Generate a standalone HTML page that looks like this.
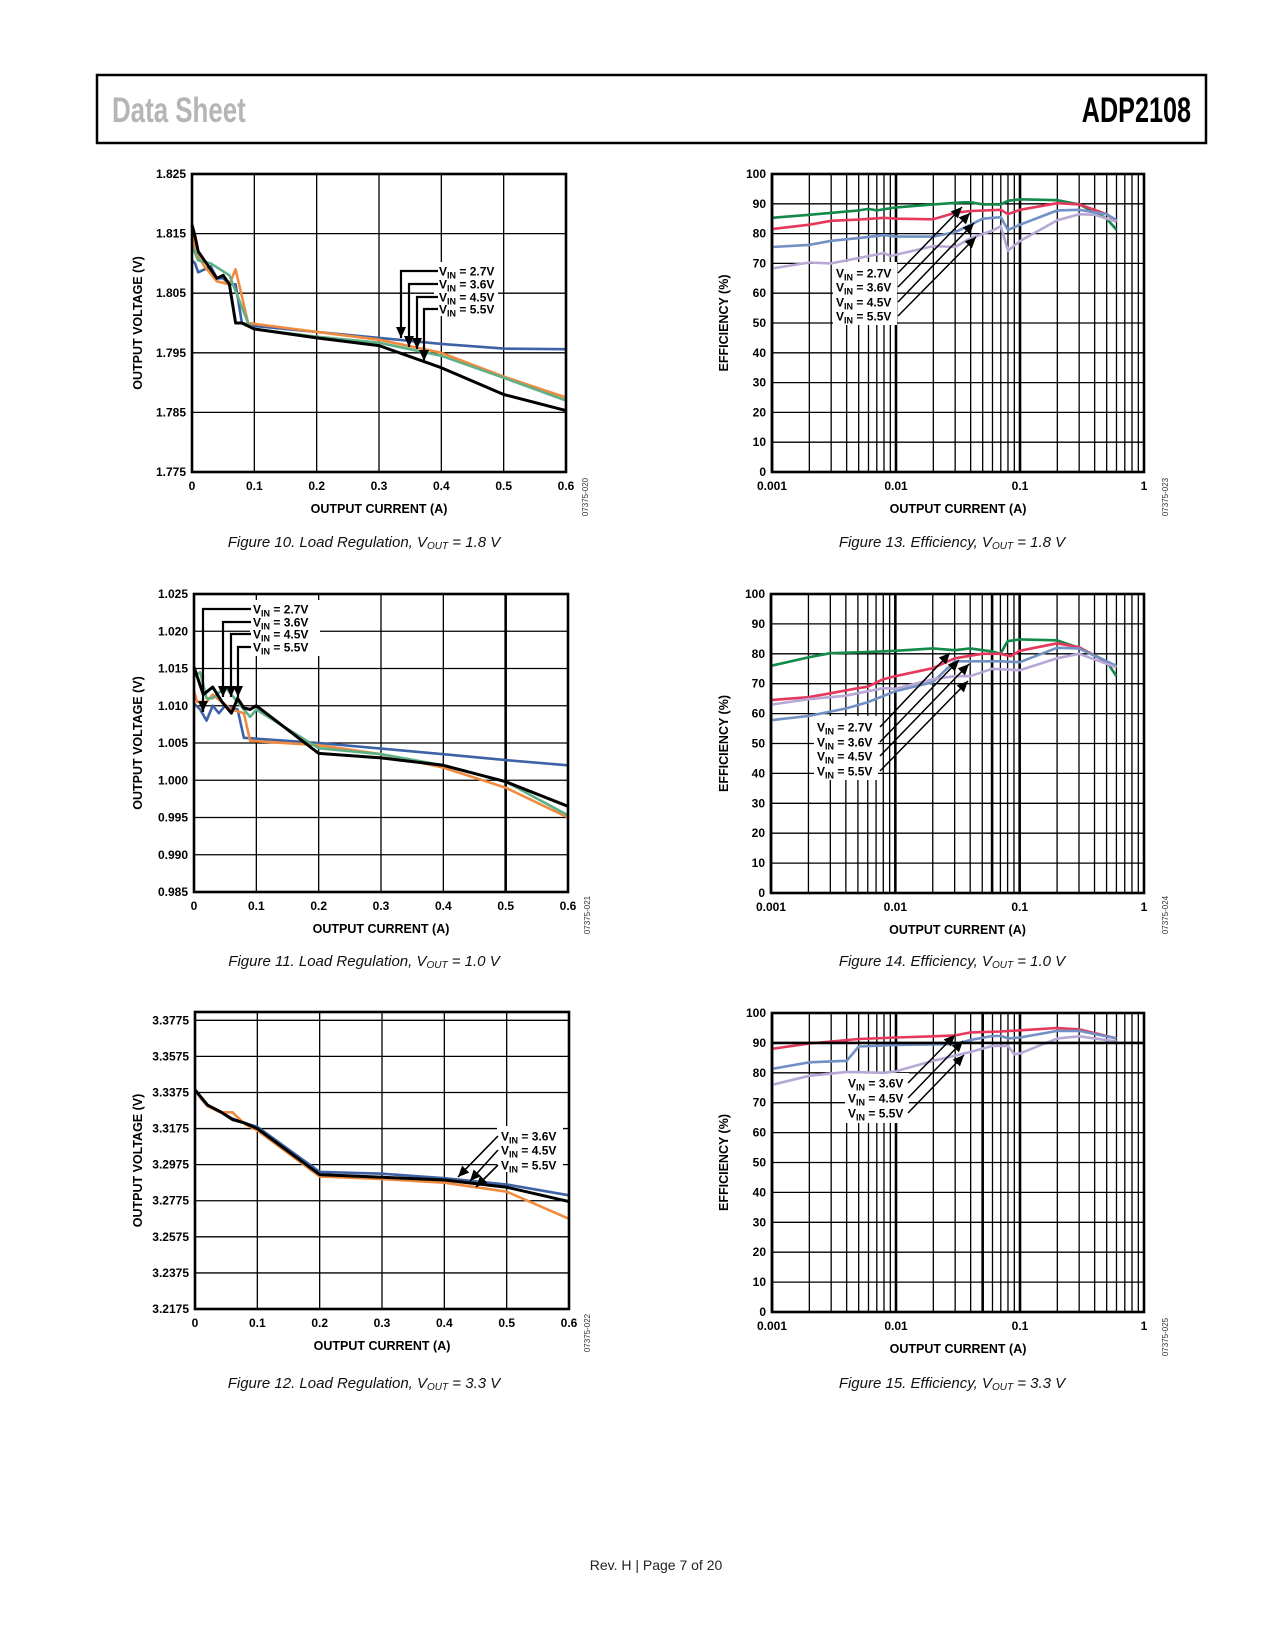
<!DOCTYPE html>
<html><head><meta charset="utf-8">
<style>
html,body{margin:0;padding:0;background:#fff;}
svg{display:block;font-family:"Liberation Sans",sans-serif;}
</style></head>
<body>
<svg id="page" xmlns="http://www.w3.org/2000/svg" width="1275" height="1650" viewBox="0 0 1275 1650">
<rect x="0" y="0" width="1275" height="1650" fill="#fff"/>
<rect x="97" y="75" width="1109" height="68" fill="none" stroke="#000" stroke-width="2.5"/>
<text x="112" y="122" font-size="35" fill="#b5b5b5" font-weight="bold" transform="translate(112 0) scale(0.74 1) translate(-112 0)">Data Sheet</text>
<text x="1191" y="122" font-size="35" font-weight="bold" text-anchor="end" transform="translate(1191 0) scale(0.72 1) translate(-1191 0)">ADP2108</text>
<text x="656" y="1570" font-size="14" text-anchor="middle" fill="#222">Rev. H | Page 7 of 20</text>
<g id="charts"></g>
</svg>
<script>
// ---------- Figure 10 data: load regulation VOUT=1.8V ----------
const fig10_xticks = [0,0.1,0.2,0.3,0.4,0.5,0.6];
const fig10_yticks = [1.775,1.785,1.795,1.805,1.815,1.825];
const fig10_blue_x = [0,0.005,0.01,0.03,0.04,0.05,0.06,0.07,0.08,0.1,0.2,0.3,0.4,0.5,0.6];
const fig10_blue_y = [1.8105,1.810,1.8085,1.8095,1.8075,1.8075,1.8065,1.8065,1.800,1.7995,1.7985,1.7975,1.7965,1.7957,1.7956];
const fig10_orange_x = [0,0.005,0.02,0.04,0.06,0.07,0.09,0.2,0.3,0.4,0.5,0.6];
const fig10_orange_y = [1.8155,1.812,1.8095,1.807,1.8065,1.809,1.800,1.7985,1.7972,1.795,1.791,1.7875];
const fig10_green_x = [0,0.01,0.03,0.06,0.09,0.1,0.2,0.3,0.4,0.5,0.6];
const fig10_green_y = [1.813,1.8105,1.810,1.808,1.800,1.799,1.7977,1.7967,1.7945,1.7908,1.787];
const fig10_black_x = [0,0.005,0.01,0.04,0.05,0.06,0.07,0.08,0.1,0.2,0.3,0.4,0.5,0.6];
const fig10_black_y = [1.8165,1.8145,1.812,1.8075,1.808,1.8065,1.800,1.800,1.799,1.7975,1.7962,1.7925,1.788,1.7853];

// ---------- Figure 11 data: load regulation VOUT=1.0V ----------
const fig11_xticks = [0,0.1,0.2,0.3,0.4,0.5,0.6];
const fig11_yticks = [0.985,0.990,0.995,1.000,1.005,1.010,1.015,1.020,1.025];
const fig11_blue_x = [0,0.01,0.02,0.03,0.04,0.05,0.07,0.08,0.2,0.4,0.5,0.6];
const fig11_blue_y = [1.0103,1.0095,1.008,1.010,1.009,1.010,1.0095,1.0057,1.005,1.0035,1.0027,1.002];
const fig11_orange_x = [0,0.005,0.02,0.03,0.06,0.08,0.09,0.2,0.3,0.4,0.5,0.6];
const fig11_orange_y = [1.012,1.0105,1.0105,1.0115,1.0095,1.009,1.0053,1.0047,1.0035,1.0017,0.999,0.995];
const fig11_green_x = [0,0.01,0.02,0.03,0.05,0.07,0.09,0.1,0.2,0.3,0.4,0.5,0.6];
const fig11_green_y = [1.014,1.0145,1.011,1.011,1.0125,1.0105,1.0085,1.0095,1.0043,1.0035,1.002,0.9998,0.9953];
const fig11_black_x = [0,0.015,0.03,0.045,0.06,0.07,0.08,0.09,0.1,0.2,0.3,0.4,0.5,0.6];
const fig11_black_y = [1.0152,1.0115,1.0125,1.0105,1.009,1.011,1.0097,1.0095,1.010,1.0036,1.003,1.002,0.9998,0.9965];

// ---------- Figure 12 data: load regulation VOUT=3.3V ----------
const fig12_xticks = [0,0.1,0.2,0.3,0.4,0.5,0.6];
const fig12_yticks = [3.2175,3.2375,3.2575,3.2775,3.2975,3.3175,3.3375,3.3575,3.3775];
const fig12_blue_x = [0,0.01,0.02,0.04,0.06,0.08,0.1,0.2,0.3,0.4,0.5,0.6];
const fig12_blue_y = [3.339,3.334,3.330,3.327,3.323,3.3205,3.3185,3.2935,3.2925,3.290,3.2865,3.2805];
const fig12_black_x = [0,0.02,0.04,0.06,0.08,0.1,0.2,0.3,0.4,0.5,0.6];
const fig12_black_y = [3.339,3.3305,3.327,3.3225,3.3205,3.3175,3.292,3.2905,3.289,3.285,3.277];
const fig12_orange_x = [0,0.02,0.04,0.06,0.08,0.1,0.2,0.3,0.4,0.5,0.6];
const fig12_orange_y = [3.3385,3.330,3.3265,3.3265,3.320,3.3165,3.291,3.2895,3.2875,3.2825,3.2675];

// ---------- Figure 13 data: efficiency VOUT=1.8V ----------
const eff_xticks = [0.001,0.01,0.1,1];
const eff_xtick_labels = ["0.001","0.01","0.1","1"];
const eff_yticks = [0,10,20,30,40,50,60,70,80,90,100];
const fig13_green_x = [0.001,0.002,0.005,0.006,0.007,0.01,0.02,0.035,0.04,0.05,0.07,0.08,0.1,0.2,0.3,0.5,0.6];
const fig13_green_y = [85.3,86.3,87.8,88.3,87.8,88.8,89.8,90.5,90.5,89.8,89.8,91,91.5,91.2,89.8,85,81.3];
const fig13_red_x = [0.001,0.002,0.003,0.005,0.008,0.01,0.02,0.03,0.04,0.07,0.08,0.1,0.2,0.3,0.5,0.6];
const fig13_red_y = [81.5,83,84.3,84.7,85.3,85,84.8,87,87.6,88,86.5,88,90.2,89.8,86.5,84.2];
const fig13_blue_x = [0.001,0.002,0.003,0.005,0.008,0.01,0.02,0.03,0.04,0.05,0.07,0.08,0.1,0.2,0.3,0.5,0.6];
const fig13_blue_y = [75.5,76.2,77.6,78.5,79.5,79,79,80.5,83,85,85.5,81.2,83,87.8,88,86.5,84.5];
const fig13_lav_x = [0.001,0.002,0.003,0.005,0.008,0.009,0.02,0.03,0.04,0.06,0.07,0.08,0.1,0.2,0.3,0.4,0.6];
const fig13_lav_y = [68.3,70.3,70,71.8,73.5,72.5,75.8,75.5,78.5,81,82.5,74.3,77.5,84.5,86.5,86.3,84];

// ---------- Figure 14 data: efficiency VOUT=1.0V ----------
const fig14_green_x = [0.001,0.002,0.003,0.006,0.01,0.02,0.03,0.04,0.06,0.07,0.08,0.1,0.2,0.3,0.5,0.6];
const fig14_green_y = [76,78.8,80.2,80.6,81,81.8,81.2,81.8,80.8,80,84.2,84.8,84.5,82,77.5,72.5];
const fig14_red_x = [0.001,0.002,0.003,0.005,0.006,0.008,0.01,0.02,0.03,0.05,0.07,0.085,0.1,0.2,0.3,0.6];
const fig14_red_y = [64.5,65.5,66.8,68.5,69,71.5,72.5,75.2,78.5,80,80,79.2,81,83.5,82.2,75.5];
const fig14_blue_x = [0.001,0.002,0.004,0.006,0.01,0.02,0.03,0.05,0.07,0.1,0.2,0.3,0.6];
const fig14_blue_y = [57.8,59.2,61.7,63.8,67.5,70.5,77.5,77.5,77.5,77.2,82,81.8,76];
const fig14_lav_x = [0.001,0.002,0.004,0.006,0.008,0.01,0.02,0.03,0.04,0.06,0.1,0.2,0.3,0.6];
const fig14_lav_y = [63,64.8,66,67.5,68.5,68.3,71.5,72.5,72.5,75,74.5,78.5,80,75.5];

// ---------- Figure 15 data: efficiency VOUT=3.3V ----------
const fig15_red_x = [0.001,0.002,0.005,0.01,0.02,0.03,0.04,0.07,0.1,0.2,0.3,0.6];
const fig15_red_y = [88,89.8,91.3,91.8,92.2,92.5,93.5,93.8,94.2,95,94.5,91.5];
const fig15_blue_x = [0.001,0.002,0.004,0.005,0.01,0.03,0.04,0.06,0.07,0.08,0.1,0.2,0.3,0.6];
const fig15_blue_y = [81.3,83.5,84,88.8,89.3,89.6,91,92.3,92.3,91.5,91.8,94,94,91.5];
const fig15_lav_x = [0.001,0.002,0.004,0.008,0.01,0.02,0.04,0.06,0.08,0.09,0.1,0.2,0.3,0.6];
const fig15_lav_y = [76,79,80.3,80,80.5,84,87,89,89,86.2,86.5,91.5,92.2,90.5];

const NS = "http://www.w3.org/2000/svg";
const root = document.getElementById('charts');
function mk(tag, attrs, parent, text){
  const e = document.createElementNS(NS, tag);
  for (const k in attrs) e.setAttribute(k, attrs[k]);
  if (text !== undefined) e.textContent = text;
  (parent || root).appendChild(e);
  return e;
}
const C = {blue:"#3d62a6", orange:"#f08a3e", green:"#5fb087", black:"#000",
  egreen:"#13894a", ered:"#e6385c", eblue:"#7190c4", elav:"#b7a8d6"};

function makeChart(o){
  const g = mk('g', {});
  
  
  const sx = o.log
    ? v => o.L + (Math.log10(v) - Math.log10(o.xmin)) / (Math.log10(o.xmax) - Math.log10(o.xmin)) * (o.R - o.L)
    : v => o.L + (v - o.xmin) / (o.xmax - o.xmin) * (o.R - o.L);
  const sy = v => o.B - (v - o.ymin) / (o.ymax - o.ymin) * (o.B - o.T);
  const grid = mk('g', {}, g);
  
  
  o.yticks.forEach(v => {
    mk('line', {x1:o.L, x2:o.R, y1:sy(v), y2:sy(v), stroke:"#000", "stroke-width":1.3}, grid);
  });
  if (o.log){
    for (let d = o.xmin; d < o.xmax * 0.999; d *= 10){
      for (let m = 1; m <= 9; m++){
        const v = d * m;
        const thick = (m === 1) || (o.thick && o.thick.some(t => Math.abs(t - v) < 1e-9));
        mk('line', {x1:sx(v), x2:sx(v), y1:o.T, y2:o.B, stroke:"#000", "stroke-width": thick ? 2.6 : 1.3}, grid);
      }
    }
  } else {
    o.xticks.forEach(v => {
      const thick = o.thick && o.thick.indexOf(v) >= 0;
      mk('line', {x1:sx(v), x2:sx(v), y1:o.T, y2:o.B, stroke:"#000", "stroke-width": thick ? 2.6 : 1.3}, grid);
    });
  }
  o.yticks.forEach((v, i) => {
    const t = mk('text', {x:o.L - 6, y:sy(v) + 4, "font-size":12, "font-weight":"bold", "text-anchor":"end"}, g, o.ylabels ? o.ylabels[i] : String(v));
    
    
  });
  o.xticks.forEach((v, i) => {
    const t = mk('text', {x:sx(v), y:o.B + 18, "font-size":12, "font-weight":"bold", "text-anchor":"middle"}, g, o.xlabels ? o.xlabels[i] : String(v));
    
    
  });
  const xt = mk('text', {x:(o.L + o.R) / 2, y:o.B + 41, "font-size":12.5, "font-weight":"bold", "text-anchor":"middle"}, g, "OUTPUT CURRENT (A)");
  
  
  const yc = (o.T + o.B) / 2;
  const yt = mk('text', {x:o.ytx, y:yc, "font-size":12.5, "font-weight":"bold", "text-anchor":"middle", transform:`rotate(-90 ${o.ytx} ${yc})`}, g, o.ytitle);
  
  
  const fid = mk('text', {x:o.idx, y:o.idy, "font-size":8, fill:"#333", "text-anchor":"middle", transform:`rotate(-90 ${o.idx} ${o.idy})`}, g, o.figid);
  
  
  if (o.labelBox){
    const b = o.labelBox;
    mk('rect', {x:b[0], y:b[1], width:b[2], height:b[3], fill:"#fff"}, g);
  }
  o.series.forEach(s => {
    let d = "";
    s.x.forEach((xv, i) => { d += (i ? "L" : "M") + sx(xv).toFixed(1) + "," + sy(s.y[i]).toFixed(1); });
    const p = mk('path', {d:d, fill:"none", stroke:s.color, "stroke-width":s.w || 2.6, "stroke-linejoin":"round"}, g);
    
    
  });
  const fr = mk('rect', {x:o.L, y:o.T, width:o.R - o.L, height:o.B - o.T, fill:"none", stroke:"#000", "stroke-width":2.6}, g);
  
  
  const cap = mk('text', {x:o.capx, y:o.capy, "font-size":15, "font-style":"italic", "text-anchor":"middle", fill:"#111"}, g);
  
  
  mk('tspan', {}, cap, o.caption + ", V");
  mk('tspan', {"font-size":10, dy:2}, cap, "OUT");
  mk('tspan', {dy:-2}, cap, " = " + o.vout + " V");
  return g;
}

function vinLabel(g, x, y, val){
  const t = mk('text', {x:x, y:y + 4.5, "font-size":12, "font-weight":"bold"}, g);
  
  
  mk('tspan', {}, t, "V");
  mk('tspan', {"font-size":9, dy:3}, t, "IN");
  mk('tspan', {dy:-3}, t, " = " + val);
}
function arrow(g, pts, w){
  let d = "";
  pts.forEach((p, i) => d += (i ? "L" : "M") + p[0] + "," + p[1]);
  const a = mk('path', {d:d, fill:"none", stroke:"#000", "stroke-width":w || 2}, g);
  
  
  const n = pts.length, p1 = pts[n-2], p2 = pts[n-1];
  const ang = Math.atan2(p2[1]-p1[1], p2[0]-p1[0]);
  const L = 11, W = 5;
  const bx = p2[0] - L*Math.cos(ang), by = p2[1] - L*Math.sin(ang);
  const h = mk('polygon', {points:`${p2[0]},${p2[1]} ${bx - W*Math.sin(ang)},${by + W*Math.cos(ang)} ${bx + W*Math.sin(ang)},${by - W*Math.cos(ang)}`, fill:"#000"}, g);
  
  
}

const g10 = makeChart({name:"figure-10-load-regulation-1v8", L:192, R:566, T:174, B:472, xmin:0, xmax:0.6, ymin:1.775, ymax:1.825,
  xticks:fig10_xticks, yticks:fig10_yticks, ylabels:fig10_yticks.map(v=>v.toFixed(3)), ytitle:"OUTPUT VOLTAGE (V)", ytx:142,
  idx:588, idy:497, figid:"07375-020", capx:364, capy:547, caption:"Figure 10. Load Regulation", vout:"1.8",
  labelBox:[434,262,64,54],
  series:[{name:"series-vin-2v7",x:fig10_blue_x,y:fig10_blue_y,color:C.blue},
          {name:"series-vin-3v6",x:fig10_orange_x,y:fig10_orange_y,color:C.orange},
          {name:"series-vin-4v5",x:fig10_green_x,y:fig10_green_y,color:C.green},
          {name:"series-vin-5v5",x:fig10_black_x,y:fig10_black_y,color:C.black,w:3}]});
[["2.7V",271,401,338],["3.6V",284,409,347],["4.5V",297,417,349],["5.5V",309,424,361]].forEach(a=>{
  arrow(g10, [[438,a[1]],[a[2],a[1]],[a[2],a[3]]], 2.2); vinLabel(g10, 439, a[1], a[0]);
});

const g11 = makeChart({name:"figure-11-load-regulation-1v0", L:194, R:568, T:594, B:892, xmin:0, xmax:0.6, ymin:0.985, ymax:1.025,
  xticks:fig11_xticks, yticks:fig11_yticks, ylabels:fig11_yticks.map(v=>v.toFixed(3)), ytitle:"OUTPUT VOLTAGE (V)", ytx:142, thick:[0.5],
  idx:590, idy:915, figid:"07375-021", capx:364, capy:966, caption:"Figure 11. Load Regulation", vout:"1.0",
  labelBox:[250,600,70,56],
  series:[{name:"series-vin-2v7",x:fig11_blue_x,y:fig11_blue_y,color:C.blue},
          {name:"series-vin-3v6",x:fig11_orange_x,y:fig11_orange_y,color:C.orange},
          {name:"series-vin-4v5",x:fig11_green_x,y:fig11_green_y,color:C.green},
          {name:"series-vin-5v5",x:fig11_black_x,y:fig11_black_y,color:C.black,w:3}]});
[["2.7V",609,203,712],["3.6V",622,223,697],["4.5V",634,231,697],["5.5V",647,238,697]].forEach(a=>{
  arrow(g11, [[251,a[1]],[a[2],a[1]],[a[2],a[3]]], 2.2); vinLabel(g11, 253, a[1], a[0]);
});

const g12 = makeChart({name:"figure-12-load-regulation-3v3", L:195, R:569, T:1012, B:1309, xmin:0, xmax:0.6, ymin:3.2175, ymax:3.3821,
  xticks:fig12_xticks, yticks:fig12_yticks, ylabels:fig12_yticks.map(v=>v.toFixed(4)), ytitle:"OUTPUT VOLTAGE (V)", ytx:142,
  idx:590, idy:1333, figid:"07375-022", capx:364, capy:1388, caption:"Figure 12. Load Regulation", vout:"3.3",
  labelBox:[497,1126,66,46],
  series:[{name:"series-vin-3v6",x:fig12_blue_x,y:fig12_blue_y,color:C.blue},
          {name:"series-vin-5v5",x:fig12_orange_x,y:fig12_orange_y,color:C.orange},
          {name:"series-vin-4v5",x:fig12_black_x,y:fig12_black_y,color:C.black,w:3}]});
[["3.6V",1136,458,1177],["4.5V",1150,470,1181],["5.5V",1165,476,1187]].forEach(a=>{
  arrow(g12, [[498,a[1]],[a[2],a[3]]], 1.6); vinLabel(g12, 501, a[1], a[0]);
});

const g13 = makeChart({name:"figure-13-efficiency-1v8", log:true, L:772, R:1144, T:174, B:472, xmin:0.001, xmax:1, ymin:0, ymax:100,
  xticks:eff_xticks, xlabels:eff_xtick_labels, yticks:eff_yticks, ytitle:"EFFICIENCY (%)", ytx:728,
  idx:1168, idy:497, figid:"07375-023", capx:952, capy:547, caption:"Figure 13. Efficiency", vout:"1.8",
  labelBox:[833,262,64,63],
  series:[{name:"series-vin-2v7",x:fig13_green_x,y:fig13_green_y,color:C.egreen},
          {name:"series-vin-3v6",x:fig13_red_x,y:fig13_red_y,color:C.ered},
          {name:"series-vin-4v5",x:fig13_blue_x,y:fig13_blue_y,color:C.eblue},
          {name:"series-vin-5v5",x:fig13_lav_x,y:fig13_lav_y,color:C.elav}]});
[["2.7V",273,962,207],["3.6V",287,970,213],["4.5V",302,974,223],["5.5V",316,976,237]].forEach(a=>{
  arrow(g13, [[898,a[1]],[a[2],a[3]]], 1.5); vinLabel(g13, 836, a[1], a[0]);
});

const g14 = makeChart({name:"figure-14-efficiency-1v0", log:true, L:771, R:1144, T:594, B:893, xmin:0.001, xmax:1, ymin:0, ymax:100,
  xticks:eff_xticks, xlabels:eff_xtick_labels, yticks:eff_yticks, ytitle:"EFFICIENCY (%)", ytx:728, thick:[0.06],
  idx:1168, idy:915, figid:"07375-024", capx:952, capy:966, caption:"Figure 14. Efficiency", vout:"1.0",
  labelBox:[814,716,64,64],
  series:[{name:"series-vin-2v7",x:fig14_green_x,y:fig14_green_y,color:C.egreen},
          {name:"series-vin-3v6",x:fig14_red_x,y:fig14_red_y,color:C.ered},
          {name:"series-vin-4v5",x:fig14_blue_x,y:fig14_blue_y,color:C.eblue},
          {name:"series-vin-5v5",x:fig14_lav_x,y:fig14_lav_y,color:C.elav}]});
[["2.7V",727,950,653],["3.6V",742,959,660],["4.5V",756,969,664],["5.5V",771,968,681]].forEach(a=>{
  arrow(g14, [[880,a[1]],[a[2],a[3]]], 1.5); vinLabel(g14, 817, a[1], a[0]);
});

const g15 = makeChart({name:"figure-15-efficiency-3v3", log:true, L:772, R:1144, T:1013, B:1312, xmin:0.001, xmax:1, ymin:0, ymax:100,
  xticks:eff_xticks, xlabels:eff_xtick_labels, yticks:eff_yticks, ytitle:"EFFICIENCY (%)", ytx:728, thick:[0.05],
  idx:1168, idy:1337, figid:"07375-025", capx:952, capy:1388, caption:"Figure 15. Efficiency", vout:"3.3",
  labelBox:[845,1073,64,50],
  series:[{name:"series-vin-3v6",x:fig15_red_x,y:fig15_red_y,color:C.ered},
          {name:"series-vin-4v5",x:fig15_blue_x,y:fig15_blue_y,color:C.eblue},
          {name:"series-vin-5v5",x:fig15_lav_x,y:fig15_lav_y,color:C.elav}]});
mk('line', {x1:772, x2:1144, y1:1013 + 0.1*299, y2:1013 + 0.1*299, stroke:"#000", "stroke-width":2.6}, g15);
[["3.6V",1083,955,1035],["4.5V",1098,963,1041],["5.5V",1113,964,1055]].forEach(a=>{
  arrow(g15, [[908,a[1]],[a[2],a[3]]], 1.5); vinLabel(g15, 848, a[1], a[0]);
});
</script>
</body></html>
